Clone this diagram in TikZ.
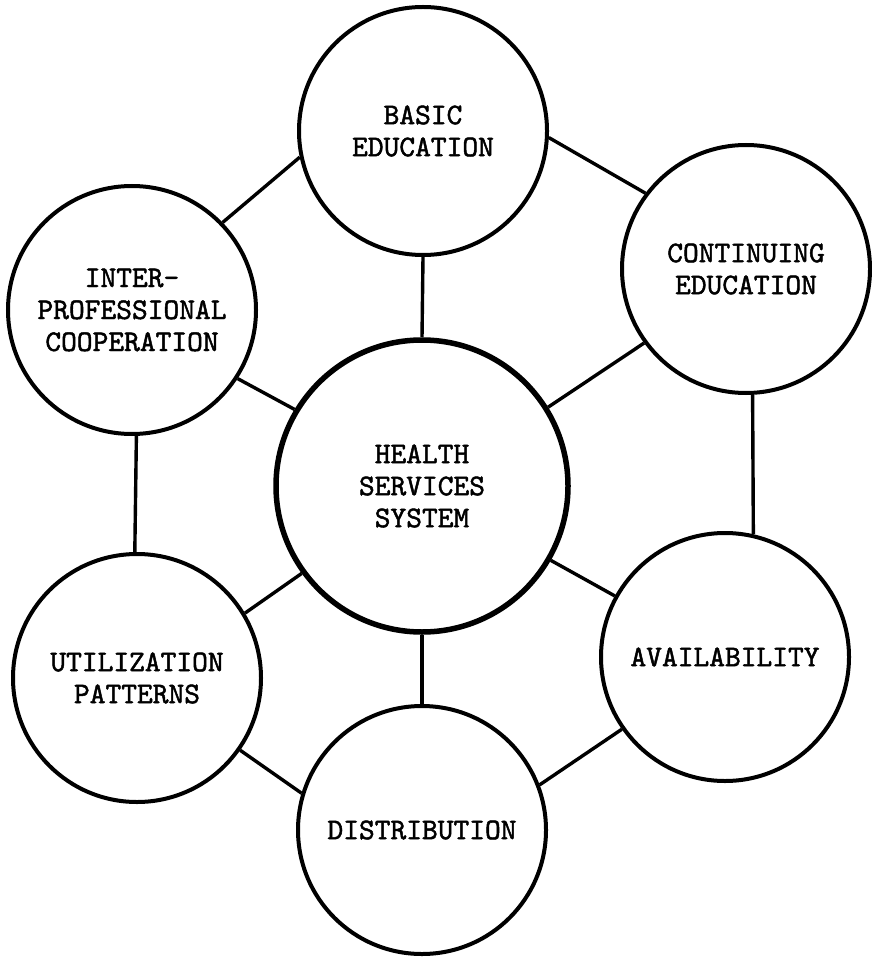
\documentclass[tikz,border=0pt]{standalone}
\usepackage{fontspec}
\newfontfamily\typer{lmmono10-regular.otf}[FakeBold=1.6]
\begin{document}
\begin{tikzpicture}[x=1pt,y=-1pt,font=\fontsize{30}{32}\selectfont\typer,line width=3.4pt]
    \tikzset{
        topic/.style={draw,circle,line width=4pt,minimum size=248pt,inner sep=0pt,align=center},
        hub/.style={topic,line width=5.5pt,minimum size=292pt}
    }
    \useasboundingbox (0,0) rectangle (871,957);

    \node[hub] (health) at (422,486) {HEALTH\\SERVICES\\SYSTEM};
    \node[topic] (basic) at (423,131) {BASIC\\EDUCATION};
    \node[topic] (cont) at (746,269) {CONTINUING\\EDUCATION};
    \node[topic] (inter) at (132,310) {INTER-\\PROFESSIONAL\\COOPERATION};
    \node[topic] (util) at (137,678) {UTILIZATION\\PATTERNS};
    \node[topic] (avail) at (725,657) {AVAILABILITY};
    \node[topic] (dist) at (422,830) {DISTRIBUTION};

    % outer ring
    \draw (basic.-3) -- (cont.143);
    \draw (basic.-168) -- (inter.44);
    \draw (inter.-88) -- (util.91);
    \draw (cont.-87) -- (avail.77);
    \draw (util.-35) -- (dist.163);
    \draw (avail.-145) -- (dist.21);

    % spokes
    \draw (basic.south) -- (health.north);
    \draw (inter.-33) -- (health.149);
    \draw (cont.-144) -- (health.32);
    \draw (health.-144) -- (util.31);
    \draw (health.-30) -- (avail.151);
    \draw (health.south) -- (dist.north);
\end{tikzpicture}
\end{document}
